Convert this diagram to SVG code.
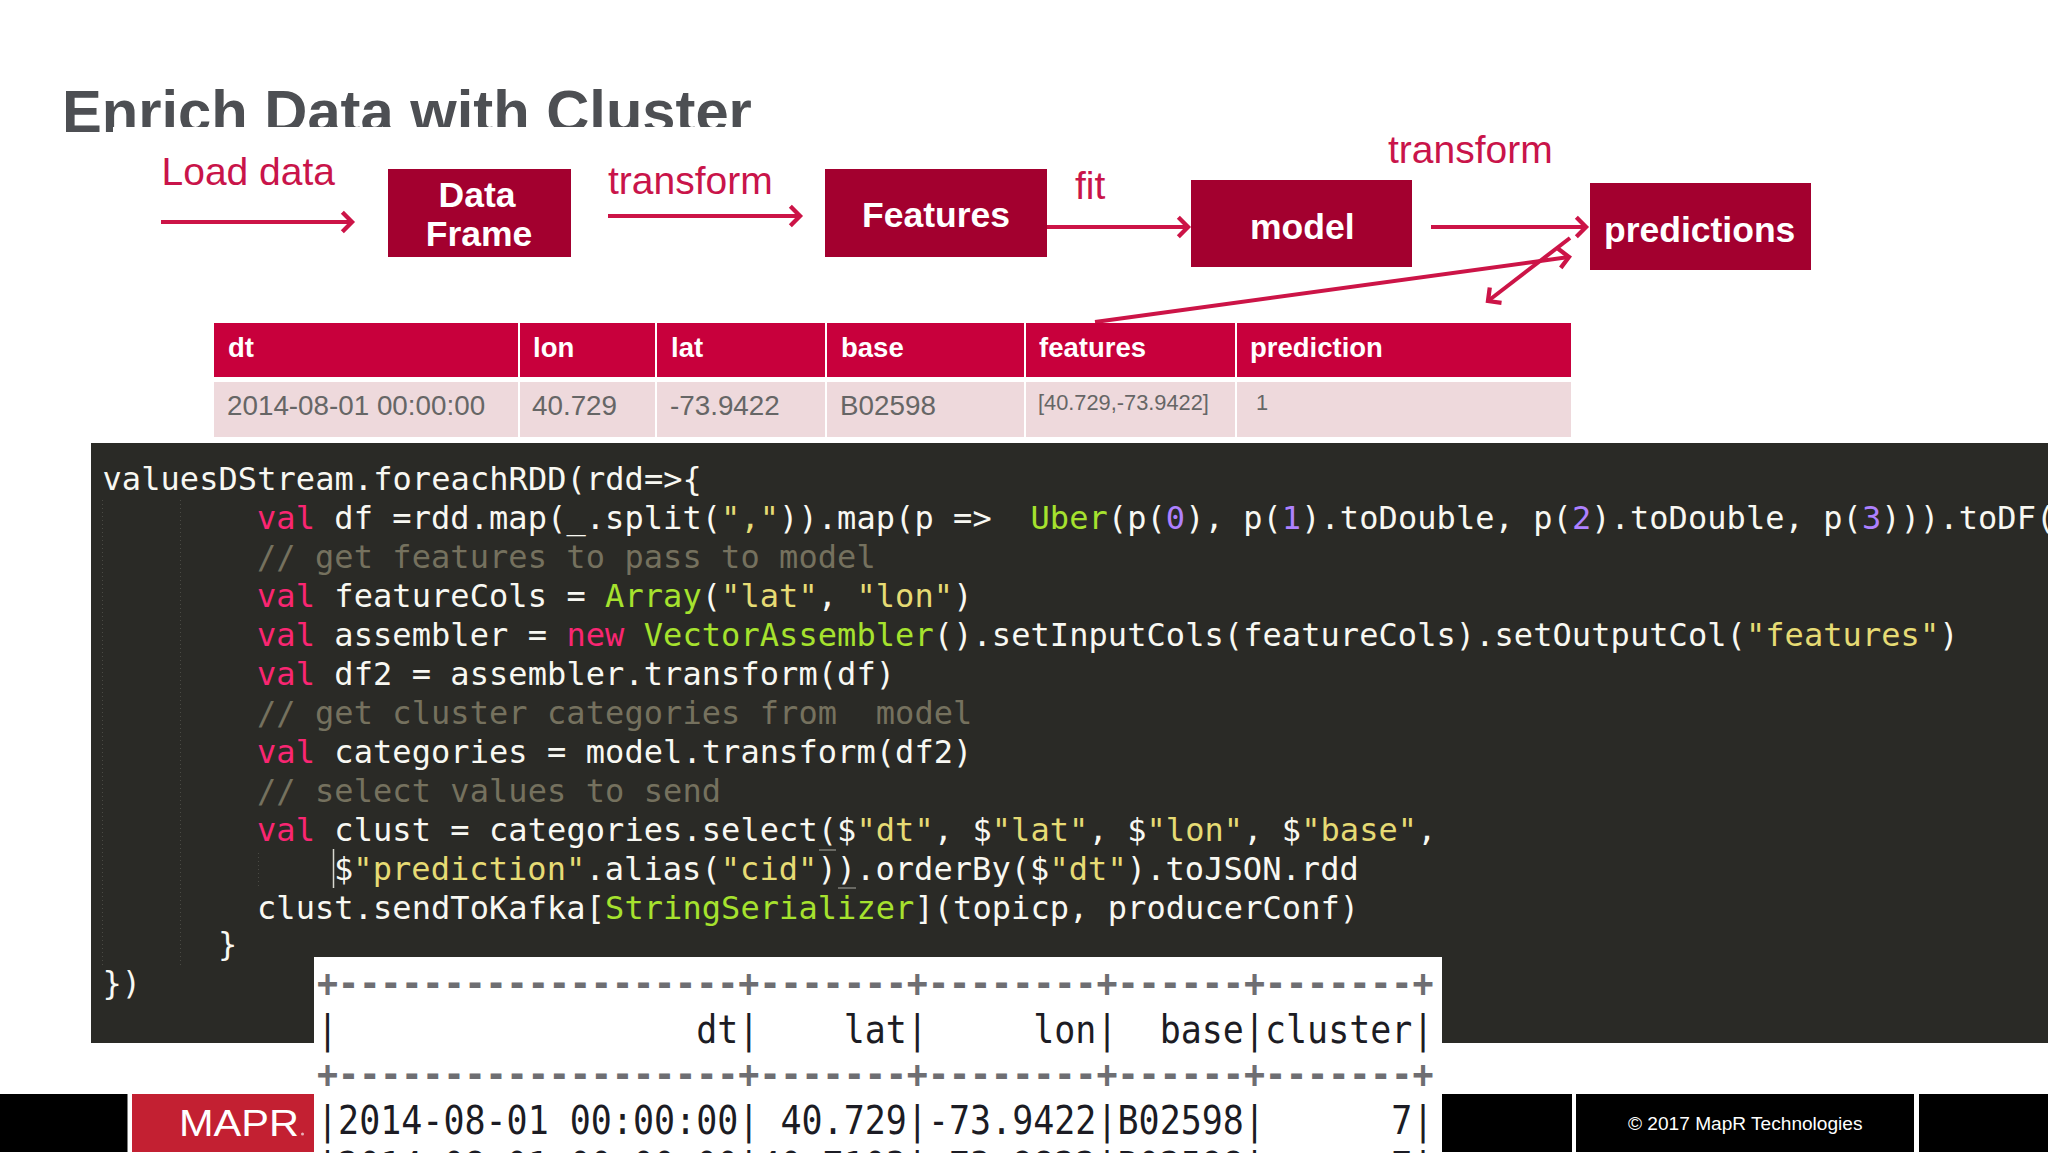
<svg xmlns="http://www.w3.org/2000/svg" width="2048" height="1153" viewBox="0 0 2048 1153">
<style>
text{font-family:"Liberation Sans",Arial,sans-serif;white-space:pre}
.title{font-size:59.700px;font-weight:700;fill:#4d4f53}
.node{fill:#a3002f}
.nt{font-size:35.500px;font-weight:700;fill:#fff}
.lab{font-size:39px;fill:#c9144a}
.conn{fill:none;stroke:#cc1447;stroke-width:4;marker-end:url(#chev)}
.th{fill:#c8003c}
.td{fill:#eed9dc}
.tht{font-size:27.500px;font-weight:700;fill:#fff}
.tdt{font-size:27.800px;fill:#666}
.tds{font-size:21.800px;fill:#666}
.code text{font-family:"DejaVu Sans Mono",monospace;font-size:32px;letter-spacing:.07px;fill:#f8f8f2}
.k{fill:#f92672}.c{fill:#a6e22e}.s{fill:#e6db74}.n{fill:#ae81ff}
.code .m{fill:#75715e}
.guide{stroke:#4a4a44;stroke-width:1;stroke-dasharray:1 3}
.out text{font-family:"DejaVu Sans Mono",monospace;font-size:35px;fill:#1c1c24}
.out .b{fill:#6e6e72;font-weight:700}
.foot{fill:#000}
</style>
<defs>
<marker id="chev" markerUnits="userSpaceOnUse" markerWidth="30" markerHeight="30" viewBox="-14 -14 28 28" refX="0" refY="0" orient="auto">
<path d="M-9,-9 L0,0 L-9,9" fill="none" stroke="#cc1447" stroke-width="4"/>
</marker>
</defs>
<rect width="2048" height="1153" fill="#fff"/>

<g id="title">
<text class="title" x="62" y="132">Enrich Data with Cluster</text>
<rect x="113" y="127" width="800" height="10" fill="#fff"/>
</g>

<g id="connectors">
<path class="conn" d="M161,222 H352"/>
<path class="conn" d="M608,216 H800"/>
<path class="conn" d="M1047,227 H1188"/>
<path class="conn" d="M1431,227 H1586"/>
<path class="conn" d="M1095,322 L1569,257"/>
<path class="conn" d="M1570,238 L1488,301"/>
</g>

<g id="label-load"><text class="lab" x="161.500" y="185">Load data</text></g>
<g id="label-transform1"><text class="lab" x="608" y="194">transform</text></g>
<g id="label-fit"><text class="lab" x="1075" y="199">fit</text></g>
<g id="label-transform2"><text class="lab" x="1388" y="163">transform</text></g>

<g id="node-dataframe">
<rect class="node" x="388" y="169" width="183" height="88"/>
<text class="nt" x="477" y="207" text-anchor="middle">Data</text>
<text class="nt" x="479" y="246" text-anchor="middle">Frame</text>
</g>
<g id="node-features">
<rect class="node" x="825" y="169" width="222" height="88"/>
<text class="nt" x="862" y="227">Features</text>
</g>
<g id="node-model">
<rect class="node" x="1191" y="180" width="221" height="87"/>
<text class="nt" x="1250" y="239">model</text>
</g>
<g id="node-predictions">
<rect class="node" x="1590" y="183" width="221" height="87"/>
<text class="nt" x="1604" y="242">predictions</text>
</g>

<g id="table">
<rect class="th" x="214" y="323" width="304" height="54"/>
<rect class="th" x="520" y="323" width="135" height="54"/>
<rect class="th" x="657" y="323" width="168" height="54"/>
<rect class="th" x="827" y="323" width="197" height="54"/>
<rect class="th" x="1026" y="323" width="209" height="54"/>
<rect class="th" x="1237" y="323" width="334" height="54"/>
<rect class="td" x="214" y="382" width="304" height="55"/>
<rect class="td" x="520" y="382" width="135" height="55"/>
<rect class="td" x="657" y="382" width="168" height="55"/>
<rect class="td" x="827" y="382" width="197" height="55"/>
<rect class="td" x="1026" y="382" width="209" height="55"/>
<rect class="td" x="1237" y="382" width="334" height="55"/>
<text class="tht" x="228" y="357">dt</text>
<text class="tht" x="533" y="357">lon</text>
<text class="tht" x="671" y="357">lat</text>
<text class="tht" x="841" y="357">base</text>
<text class="tht" x="1039" y="357">features</text>
<text class="tht" x="1250" y="357">prediction</text>
<text class="tdt" x="227" y="415">2014-08-01 00:00:00</text>
<text class="tdt" x="532" y="415">40.729</text>
<text class="tdt" x="670" y="415">-73.9422</text>
<text class="tdt" x="840" y="415">B02598</text>
<text class="tds" x="1038" y="410">[40.729,-73.9422]</text>
<text class="tds" x="1256" y="410">1</text>
</g>

<g id="code" class="code">
<rect x="91" y="443" width="1957" height="600" fill="#2a2a26"/>
<path class="guide" d="M102.500,500 V965 M180.500,500 V965 M258.500,853 V888"/>
<path d="M333.500,849 V888" stroke="#d8d8d0" stroke-width="1.500"/>
<path d="M819,850 H836 M838,888 H856" stroke="#a8a8a0" stroke-width="1.200"/>
<text x="102.500" y="489.500">valuesDStream.foreachRDD(rdd=&gt;{</text>
<text x="257" y="528.500"><tspan class="k">val</tspan> df =rdd.map(_.split(<tspan class="s">","</tspan>)).map(p =&gt;  <tspan class="c">Uber</tspan>(p(<tspan class="n">0</tspan>), p(<tspan class="n">1</tspan>).toDouble, p(<tspan class="n">2</tspan>).toDouble, p(<tspan class="n">3</tspan>))).toDF(</text>
<text x="257" y="567.500" class="m">// get features to pass to model</text>
<text x="257" y="606.500"><tspan class="k">val</tspan> featureCols = <tspan class="c">Array</tspan>(<tspan class="s">"lat"</tspan>, <tspan class="s">"lon"</tspan>)</text>
<text x="257" y="645.500"><tspan class="k">val</tspan> assembler = <tspan class="k">new</tspan> <tspan class="c">VectorAssembler</tspan>().setInputCols(featureCols).setOutputCol(<tspan class="s">"features"</tspan>)</text>
<text x="257" y="684.500"><tspan class="k">val</tspan> df2 = assembler.transform(df)</text>
<text x="257" y="723.500" class="m">// get cluster categories from  model</text>
<text x="257" y="762.500"><tspan class="k">val</tspan> categories = model.transform(df2)</text>
<text x="257" y="801.500" class="m">// select values to send</text>
<text x="257" y="840.500"><tspan class="k">val</tspan> clust = categories.select($<tspan class="s">"dt"</tspan>, $<tspan class="s">"lat"</tspan>, $<tspan class="s">"lon"</tspan>, $<tspan class="s">"base"</tspan>,</text>
<text x="334" y="879.500">$<tspan class="s">"prediction"</tspan>.alias(<tspan class="s">"cid"</tspan>)).orderBy($<tspan class="s">"dt"</tspan>).toJSON.rdd</text>
<text x="257" y="918.500">clust.sendToKafka[<tspan class="c">StringSerializer</tspan>](topicp, producerConf)</text>
<text x="218" y="955">}</text>
<text x="102.500" y="994">})</text>
</g>

<g id="footer">
<rect class="foot" x="0" y="1094" width="127.500" height="58"/>
<rect x="132" y="1094" width="182" height="58" fill="#c32032"/>
<rect class="foot" x="1442" y="1094" width="130" height="58"/>
<rect class="foot" x="1576" y="1094" width="338" height="58"/>
<rect class="foot" x="1919" y="1094" width="129" height="58"/>
<text x="179" y="1136" font-size="37.500" fill="#fff" textLength="120" lengthAdjust="spacingAndGlyphs">MAPR</text>
<circle cx="302.500" cy="1134" r="1.500" fill="#e8b0b8"/>
<text x="1628" y="1130" font-size="19.100" fill="#fff">© 2017 MapR Technologies</text>
</g>

<g id="output" class="out">
<rect x="314" y="957" width="1128" height="196" fill="#fff"/>
<text class="b" transform="translate(317,997) scale(1,1.100)">+-------------------+-------+--------+------+-------+</text>
<text transform="translate(317,1043) scale(1,1.100)">|                 dt|    lat|     lon|  base|cluster|</text>
<text class="b" transform="translate(317,1088) scale(1,1.100)">+-------------------+-------+--------+------+-------+</text>
<text transform="translate(317,1134) scale(1,1.100)">|2014-08-01 00:00:00| 40.729|-73.9422|B02598|      7|</text>
<text transform="translate(317,1180) scale(1,1.100)">|2014-08-01 00:00:00|40.7103|-73.9822|B02598|      7|</text>
</g>
</svg>
